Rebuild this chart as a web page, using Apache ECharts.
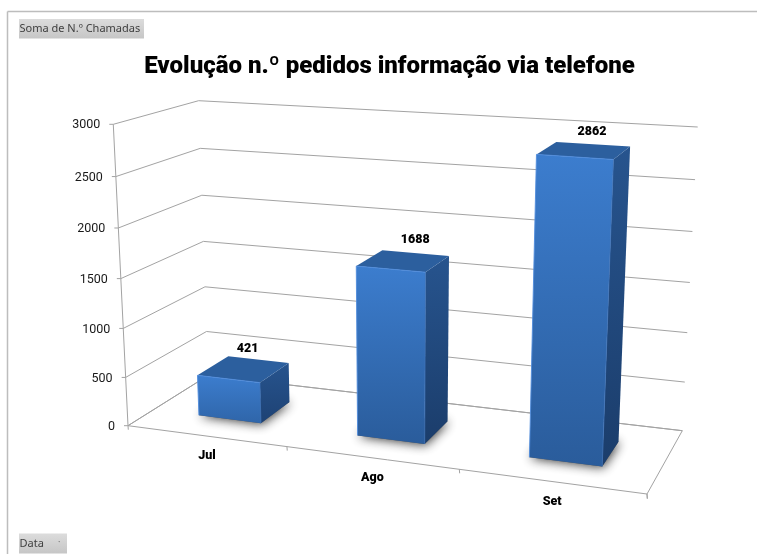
<!DOCTYPE html>
<html>
<head>
<meta charset="utf-8">
<style>
  html, body { margin: 0; padding: 0; background: #fff; }
  #chart { width: 757px; height: 554px; }
</style>
<script src="https://cdn.jsdelivr.net/npm/echarts@6/dist/echarts.min.js"></script>
</head>
<body>
<div id="chart"></div>
<script>
var categories = ['Jul', 'Ago', 'Set'];
var chamadas = [421, 1688, 2862];
var yTicks = [0, 500, 1000, 1500, 2000, 2500, 3000];

// floor corners of the 3d box as they land on the page: front left, front right, back right, back left
var floorQuad = [[128, 425.7], [647, 494], [682.3, 430.7], [208, 375.5]];
// wall height in px above those same corners
var cornerHeight = [301.4, 335, 303.7, 274.8];
var VANISH = [400, 5997]; // verticals meet here
var HEIGHT_PERSP = 1.049;
// hidden grid, only used so values go through the axis scales
var GRID = { left: 0, top: 0, width: 300, height: 300 };
var BAR_FROM = 0.3, BAR_TO = 0.7; // gap width / gap depth 150%
var labelNudge = [[4, -20], [12, -21], [8, -18]];
var GREY = '#a3a3a3';
var FONT = 'Roboto';

function quadMap(q) {
  var dx1 = q[1][0] - q[2][0], dx2 = q[3][0] - q[2][0], sx = q[0][0] - q[1][0] + q[2][0] - q[3][0];
  var dy1 = q[1][1] - q[2][1], dy2 = q[3][1] - q[2][1], sy = q[0][1] - q[1][1] + q[2][1] - q[3][1];
  var den = dx1 * dy2 - dx2 * dy1;
  var g = (sx * dy2 - dx2 * sy) / den;
  var h = (dx1 * sy - sx * dy1) / den;
  var a = q[1][0] - q[0][0] + g * q[1][0], b = q[3][0] - q[0][0] + h * q[3][0];
  var d = q[1][1] - q[0][1] + g * q[1][1], e = q[3][1] - q[0][1] + h * q[3][1];
  return function (u, v) {
    var w = g * u + h * v + 1;
    return [(a * u + b * v + q[0][0]) / w, (d * u + e * v + q[0][1]) / w];
  };
}
var floorAt = quadMap(floorQuad);

function project(u, v, z) {
  var p = floorAt(u, v);
  var c = cornerHeight;
  var full = (1 - v) * (c[0] + (c[1] - c[0]) * u) + v * (c[3] + (c[2] - c[3]) * u);
  var h = full * z / (z + (1 - z) * HEIGHT_PERSP);
  var lean = (p[0] - VANISH[0]) / (VANISH[1] - p[1]);
  return [p[0] + lean * h, p[1] - h];
}
function toU(px) { return (px - GRID.left) / GRID.width; }
function toZ(py) { return (GRID.top + GRID.height - py) / GRID.height; }

function line(points, color, width) {
  return {
    type: 'polyline',
    shape: { points: points },
    style: { stroke: color || GREY, lineWidth: width || 1, fill: null }
  };
}
function poly(points, fill) {
  return { type: 'polygon', shape: { points: points }, style: { fill: fill } };
}
function vGrad(c0, c1) {
  return new echarts.graphic.LinearGradient(0, 0, 0, 1, [
    { offset: 0, color: c0 },
    { offset: 1, color: c1 }
  ]);
}

function renderWall(params, api) {
  var z = toZ(api.coord([0, api.value(0)])[1]);
  var front = project(0, 0, z);
  return {
    type: 'group',
    children: [
      line([front, project(0, 1, z), project(1, 1, z)]),
      line([[front[0] - 4, front[1]], front]),
      {
        type: 'text',
        style: {
          x: front[0] - 13, y: front[1] + 1,
          text: String(api.value(0)),
          align: 'right', verticalAlign: 'middle',
          font: '12.5px ' + FONT, fill: '#1a1a1a'
        }
      }
    ]
  };
}

function renderFloor(params, api) {
  var band = api.size([1, 0])[0] / GRID.width;
  var mid = toU(api.coord([api.value(0), 0])[0]);
  var right = mid + band / 2;
  var labelAt = project(mid, 0, 0);
  var tick = project(right, 0, 0);
  return {
    type: 'group',
    children: [
      line([tick, [tick[0] + 0.3, tick[1] + 4]]),
      {
        type: 'text',
        style: {
          x: labelAt[0] + 1, y: labelAt[1] + 20,
          text: categories[api.value(0)],
          align: 'center', verticalAlign: 'middle',
          font: '900 12.5px ' + FONT, fill: '#000'
        }
      }
    ]
  };
}

function renderFrame() {
  var a = project(0, 0, 0), g = project(1, 0, 0), e = project(1, 1, 0), c = project(0, 1, 0);
  return {
    type: 'group',
    children: [
      line([project(0, 0, 1), a, [a[0] + 0.3, a[1] + 4]]),
      line([c, a, g, e, c]),
      line([g, [g[0] + 0.3, g[1] + 5]])
    ]
  };
}

function renderBar(params, api) {
  var i = api.value(0);
  var band = api.size([1, 0])[0] / GRID.width;
  var mid = toU(api.coord([i, 0])[0]);
  var u0 = mid - band / 2 + band * BAR_FROM;
  var u1 = mid - band / 2 + band * BAR_TO;
  var z = toZ(api.coord([i, api.value(1)])[1]);
  var v0 = BAR_FROM, v1 = BAR_TO;

  var fb0 = project(u0, v0, 0), fb1 = project(u1, v0, 0), bb1 = project(u1, v1, 0), bb0 = project(u0, v1, 0);
  var ft0 = project(u0, v0, z), ft1 = project(u1, v0, z), bt1 = project(u1, v1, z), bt0 = project(u0, v1, z);
  var labelAt = project((u0 + u1) / 2, (v0 + v1) / 2, z);
  var nudge = labelNudge[i];

  // front face darkens further on taller bars
  var depthTone = Math.min(1, 0.55 + z * 1.2);
  var frontLow = echarts.color.lerp(depthTone, ['#3a7bcb', '#2a5c9b']);
  var sideLow = echarts.color.lerp(depthTone, ['#25508a', '#1b3d6b']);

  // footprint stays hidden under the bar, only its blur shows on the floor
  var shadow = poly([fb0, fb1, bb1, bb0], '#555');
  shadow.style.shadowBlur = 11;
  shadow.style.shadowOffsetX = 1;
  shadow.style.shadowOffsetY = 1;
  shadow.style.shadowColor = 'rgba(40,40,40,0.95)';

  return {
    type: 'group',
    children: [
      shadow,
      poly([fb1, bb1, bt1, ft1], vGrad('#27548e', sideLow)),
      poly([ft0, ft1, bt1, bt0], '#2c5f9e'),
      poly([fb0, fb1, ft1, ft0], vGrad('#3c7dce', frontLow)),
      line([fb0, ft0, ft1], 'rgba(80,140,220,0.9)', 1),
      line([ft1, fb1], 'rgba(62,115,185,0.8)', 1),
      {
        type: 'text',
        style: {
          x: labelAt[0] + nudge[0], y: labelAt[1] + nudge[1],
          text: String(api.value(1)),
          align: 'center', verticalAlign: 'middle',
          font: '900 12.5px ' + FONT, fill: '#000'
        }
      }
    ]
  };
}

function pill(x, y, w, h, label) {
  return [
    {
      type: 'rect',
      shape: { x: x, y: y, width: w, height: h },
      style: { fill: vGrad('#dcdcdc', '#c6c6c6') }
    },
    {
      type: 'text',
      style: {
        x: x + 0.5, y: y + h / 2 + 0.5,
        text: label,
        verticalAlign: 'middle',
        font: '11px "Noto Sans"', fill: '#404040'
      }
    }
  ];
}

var chart = echarts.init(document.getElementById('chart'));
chart.setOption({
  animation: false,
  backgroundColor: '#fff',
  title: {
    text: 'Evolução n.º pedidos informação via telefone',
    left: 384.5, top: 50,
    textAlign: 'center',
    textStyle: { fontFamily: FONT, fontWeight: 900, fontSize: 24, color: '#000' }
  },
  grid: GRID,
  xAxis: { type: 'category', data: categories, show: false },
  yAxis: { type: 'value', min: 0, max: 3000, interval: 500, show: false },
  graphic: [
    { type: 'line', silent: true, shape: { x1: 7.5, y1: 11.5, x2: 757, y2: 11.5 }, style: { stroke: '#bdbdbd', lineWidth: 1.5 } },
    { type: 'line', silent: true, shape: { x1: 7.5, y1: 11.5, x2: 7.5, y2: 554 }, style: { stroke: '#bdbdbd', lineWidth: 1.5 } }
  ].concat(pill(19, 19, 125, 19.5, 'Soma de N.º Chamadas'), pill(19, 533.5, 48, 20, 'Data'), [
    { type: 'text', style: { x: 58, y: 538, text: '·', font: '9px "Noto Sans"', fill: '#777' } }
  ]),
  series: [
    {
      type: 'custom', silent: true, clip: false, z: 1,
      encode: { y: 0 },
      data: yTicks,
      renderItem: renderWall
    },
    {
      type: 'custom', silent: true, clip: false, z: 2,
      data: categories.map(function (c, i) { return [i]; }),
      renderItem: renderFloor
    },
    {
      type: 'custom', silent: true, clip: false, z: 2,
      data: [[0]],
      renderItem: renderFrame
    },
    {
      type: 'custom', silent: true, clip: false, z: 3,
      encode: { x: 0, y: 1 },
      data: chamadas.map(function (v, i) { return [i, v]; }),
      renderItem: renderBar
    }
  ]
});
</script>
</body>
</html>
